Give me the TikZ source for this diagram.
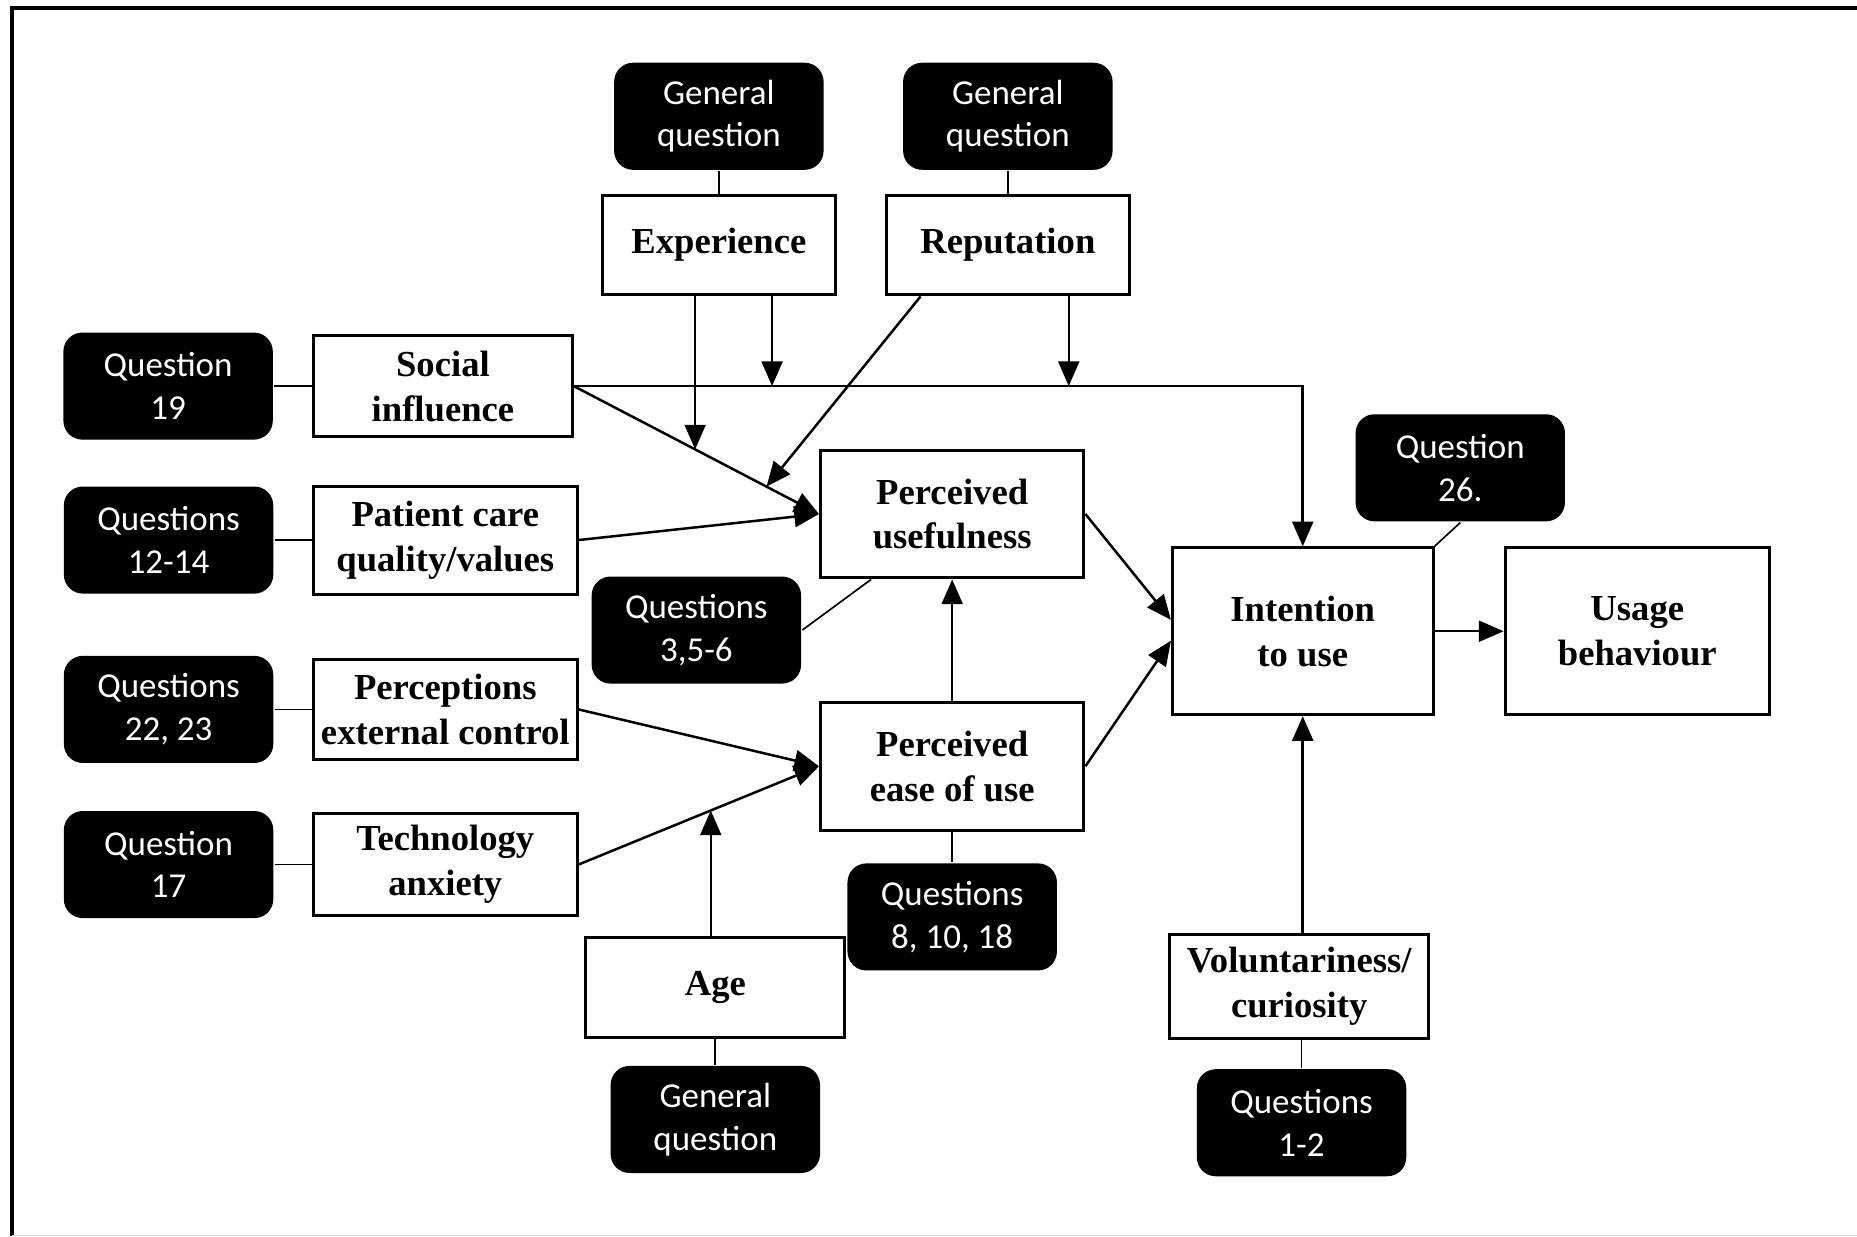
\documentclass[tikz,border=0pt]{standalone}
\usepackage{fontspec}
\setmainfont{Liberation Serif}
\newfontfamily\qfont{Carlito}
\usetikzlibrary{positioning,calc,arrows.meta}

\begin{document}
\begin{tikzpicture}[x=0.0125cm,y=-0.0125cm,node distance=2cm,on grid,
    >={Triangle[length=2.6mm,width=2.2mm]},line width=0.75pt,
    var/.style={draw,line width=0.9pt,align=center,inner sep=1pt,
      font=\fontsize{11}{13.5}\selectfont\bfseries},
    ques/.style={fill=black,rounded corners=2mm,text=white,align=center,
      minimum width=2.21cm,minimum height=1.13cm,
      font=\qfont\fontsize{10.5}{12.8}\selectfont},
    link/.style={line width=0.5pt}]
    \useasboundingbox (0,0) rectangle (1568,1044);
    \draw[line width=1.2pt] (10,1044) -- (10,7) -- (1568,7);
    \draw[gray!30,line width=0.4pt] (10,1043) -- (1568,1043);

    \node[var,minimum width=2.46cm,minimum height=1.05cm] (exper) at (607,207) {Experience};
    \node[var,minimum width=2.56cm,minimum height=1.05cm] (rep) at (851,207) {Reputation};
    \node[var,minimum width=2.73cm,minimum height=1.06cm] (social) at (374,326) {Social\\influence};
    \node[var,minimum width=2.78cm,minimum height=1.14cm] (pcq) at (376,456) {Patient care\\quality/values};
    \node[var,minimum width=2.78cm,minimum height=1.05cm] (pec) at (376,599) {Perceptions\\external control};
    \node[var,minimum width=2.78cm,minimum height=1.08cm] (anx) at (376,730) {Technology\\anxiety};
    \node[var,minimum width=2.78cm,minimum height=1.35cm] (pu) at (804,434) {Perceived\\usefulness};
    \node[var,minimum width=2.78cm,minimum height=1.35cm] (peou) at (804,647) {Perceived\\ease of use};
    \node[var,minimum width=2.73cm,minimum height=1.06cm] (age) at (604,834) {Age};
    \node[var,minimum width=2.75cm,minimum height=1.76cm] (itu) at (1100,533) {Intention\\to use};
    \node[var,minimum width=2.79cm,minimum height=1.76cm] (usage) [right=3.53cm of itu] {Usage\\behaviour};
    \node[var,minimum width=2.73cm,minimum height=1.1cm] (vol) at (1097,833) {Voluntariness/\\curiosity};

    \node[ques] (gq1) [above=1.36cm of exper] {General\\question};
    \node[ques] (gq2) [above=1.36cm of rep] {General\\question};
    \node[ques] (gq3) [below=1.39cm of age] {General\\question};
    \node[ques] (q19) [left=2.9cm of social] {Question\\19};
    \node[ques] (q1214) [left=2.92cm of pcq] {Questions\\12-14};
    \node[ques] (q2223) [left=2.92cm of pec] {Questions\\22, 23};
    \node[ques] (q17) [left=2.92cm of anx] {Question\\17};
    \node[ques] (q356) at (588,532) {Questions\\3,5-6};
    \node[ques] (q81018) [below=1.59cm of peou] {Questions\\8, 10, 18};
    \node[ques] (q26) at (1233,395) {Question\\26.};
    \node[ques] (q12) at (1099,948) {Questions\\1-2};

    \coordinate (corner) at (itu.north |- social.east);
    \coordinate (expa) at ($(social.east)!0.495!(pu.west)$);
    \coordinate (repa) at ($(social.east)!0.786!(pu.west)$);
    \coordinate (expb) at ($(social.east)!0.272!(corner)$);
    \coordinate (repb) at ($(social.east)!0.679!(corner)$);
    \coordinate (agea) at ($(anx.east)!0.55!(peou.west)$);

    \path[link]
    (gq1) edge (exper)
    (gq2) edge (rep)
    (age) edge (gq3)
    (vol.south -| q12.north) edge (q12.north)
    (peou) edge (q81018)
    (q19) edge (social)
    (q1214) edge (pcq)
    (q2223) edge (pec)
    (q17) edge (anx)
    (q356.east) edge ($(pu.south west)+(44,0)$)
    (q26.south) edge (itu.north east)
    ;
    \path[->]
    (social.east) edge (pu.west)
    (social.east) edge [to path={-| (\tikztotarget)}] (itu.north)
    (pcq.east) edge (pu.west)
    (pec.east) edge (peou.west)
    (anx.east) edge (peou.west)
    (exper.south -| expa) edge (expa)
    (exper.south -| expb) edge (expb)
    ($(rep.south west)+(30,0)$) edge (repa)
    (rep.south -| repb) edge (repb)
    (age.north -| agea) edge (agea)
    (peou) edge (pu)
    (pu.east) edge ([yshift=1.2mm]itu.west)
    (peou.east) edge ([yshift=-1mm]itu.west)
    (vol.north -| itu.south) edge (itu.south)
    (itu) edge (usage)
    ;
\end{tikzpicture}
\end{document}
